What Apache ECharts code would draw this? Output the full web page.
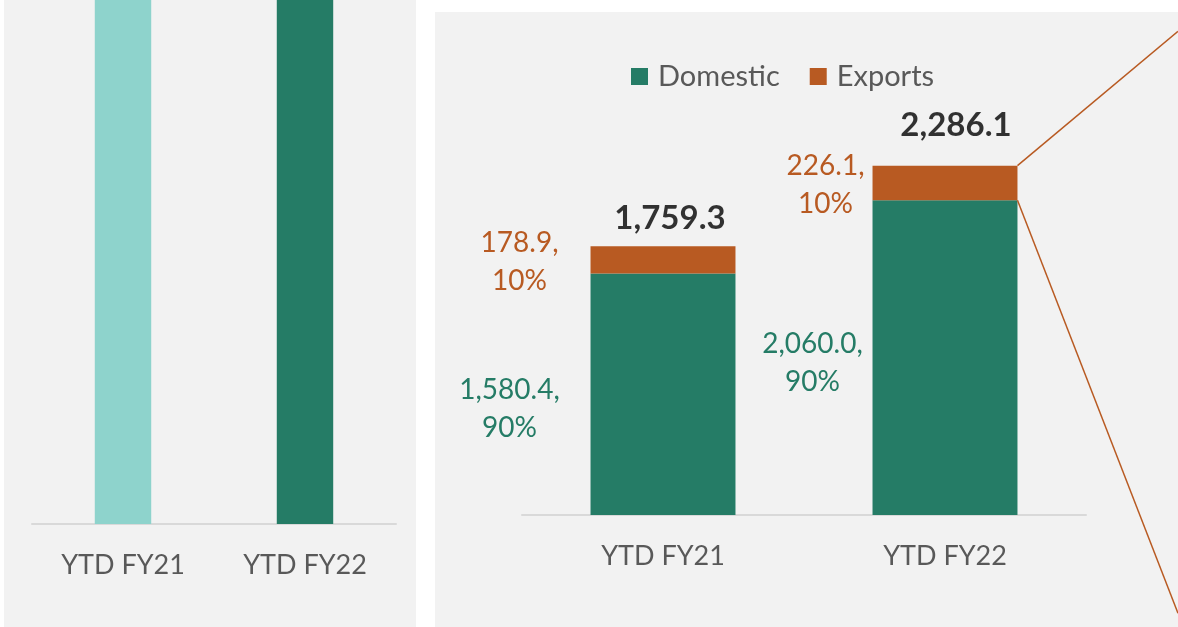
<!DOCTYPE html>
<html>
<head>
<meta charset="utf-8">
<script src="https://cdn.jsdelivr.net/npm/echarts@6/dist/echarts.min.js"></script>
<style>
html,body{margin:0;padding:0;background:#ffffff;}
#main{width:1178px;height:627px;}
</style>
</head>
<body>
<div id="main"></div>
<script>
// ---- data ----
const categories = ['YTD FY21', 'YTD FY22'];
const domesticValues = [1580.4, 2060.0];
const exportValues = [178.9, 226.1];
const totalValues = [1759.3, 2286.1];
// left (cropped) panel: bars run beyond the visible top of the panel
const leftValues = [1759.3, 2286.1];
const leftAxisMax = 1000;
const rightAxisMax = 2500;

// ---- style ----
const FONT = 'Lato, "Open Sans", sans-serif';
const GREEN = '#257c66';
const ORANGE = '#b85a22';
const TEAL = '#8ed3cc';
const GREY_TXT = '#595959';
const PANEL = '#f2f2f2';
const RIGHT_BAR_RATIO = 0.514;

const fmt = v => v.toLocaleString('en-US', {minimumFractionDigits: 1, maximumFractionDigits: 1});
const pct = (v, t) => Math.round(v / t * 100) + '%';

// per-item label placement (Excel-style manual positions)
const domLabelCfg = [{distance: 81, offset: [0, 15]}, {distance: 60, offset: [0, 5]}];
const expLabelCfg = [{distance: 71, offset: [0, 2]}, {distance: 47, offset: [0, 2]}];
const totLabelCfg = [{offset: [7, 0]}, {offset: [11, -13]}];

const chart = echarts.init(document.getElementById('main'), null, {renderer: 'canvas'});

const option = {
  backgroundColor: '#ffffff',
  animation: false,
  textStyle: {fontFamily: FONT},
  graphic: [
    {type: 'rect', z: -10, silent: true, shape: {x: 4, y: 0, width: 412, height: 627}, style: {fill: PANEL}},
    {type: 'rect', z: -10, silent: true, shape: {x: 435, y: 12, width: 743, height: 615}, style: {fill: PANEL}}
  ],
  legend: {
    data: ['Domestic', 'Exports'],
    left: 626,
    top: 57,
    icon: 'rect',
    itemWidth: 17,
    itemHeight: 17,
    itemGap: 30,
    textStyle: {color: GREY_TXT, fontSize: 29, fontFamily: FONT, padding: [0, 0, 0, 5]}
  },
  grid: [
    {left: 32, right: 1178 - 396, top: 0, bottom: 627 - 524, containLabel: false},
    {left: 522, right: 1178 - 1086, top: 133, bottom: 627 - 515, containLabel: false}
  ],
  xAxis: [
    {
      type: 'category', gridIndex: 0, data: categories,
      axisLine: {lineStyle: {color: '#d9d9d9', width: 2}},
      axisTick: {show: false},
      axisLabel: {color: GREY_TXT, fontSize: 27, fontFamily: FONT, margin: 28}
    },
    {
      type: 'category', gridIndex: 1, data: categories,
      axisLine: {lineStyle: {color: '#d9d9d9', width: 2}},
      axisTick: {show: false},
      axisLabel: {color: GREY_TXT, fontSize: 27, fontFamily: FONT, margin: 28}
    }
  ],
  yAxis: [
    {type: 'value', gridIndex: 0, min: 0, max: leftAxisMax, show: false, splitLine: {show: false}},
    {type: 'value', gridIndex: 1, min: 0, max: rightAxisMax, show: false, splitLine: {show: false}}
  ],
  series: [
    {
      name: 'Left', type: 'bar', xAxisIndex: 0, yAxisIndex: 0, clip: true,
      barWidth: '31%',
      data: leftValues.map((v, i) => ({value: v, itemStyle: {color: i === 0 ? TEAL : GREEN}}))
    },
    {
      name: 'Domestic', type: 'bar', xAxisIndex: 1, yAxisIndex: 1, stack: 'total',
      barWidth: (RIGHT_BAR_RATIO * 100) + '%',
      itemStyle: {color: GREEN},
      data: domesticValues.map((v, i) => ({
        value: v,
        label: {
          show: true, position: 'left', align: 'center', verticalAlign: 'middle',
          distance: domLabelCfg[i].distance, offset: domLabelCfg[i].offset,
          color: GREEN, fontSize: 28, fontFamily: FONT, lineHeight: 38,
          formatter: () => fmt(v) + ',\n' + pct(v, totalValues[i])
        }
      }))
    },
    {
      name: 'Exports', type: 'bar', xAxisIndex: 1, yAxisIndex: 1, stack: 'total',
      barWidth: (RIGHT_BAR_RATIO * 100) + '%',
      itemStyle: {color: ORANGE},
      data: exportValues.map((v, i) => ({
        value: v,
        label: {
          show: true, position: 'left', align: 'center', verticalAlign: 'middle',
          distance: expLabelCfg[i].distance, offset: expLabelCfg[i].offset,
          color: ORANGE, fontSize: 28, fontFamily: FONT, lineHeight: 38,
          formatter: () => fmt(v) + ',\n' + pct(v, totalValues[i])
        }
      }))
    },
    {
      name: 'Total', type: 'scatter', xAxisIndex: 1, yAxisIndex: 1,
      symbolSize: 0, silent: true,
      data: totalValues.map((v, i) => ({
        value: [i, v],
        label: {
          show: true, position: 'top', distance: 11, offset: totLabelCfg[i].offset,
          color: '#000000', fontSize: 33, fontWeight: 'bold', fontFamily: FONT,
          formatter: () => fmt(v)
        }
      }))
    },
    {
      name: 'Connector', type: 'custom', xAxisIndex: 1, yAxisIndex: 1, silent: true, clip: false, z: 5,
      data: [[1, totalValues[1], domesticValues[1]]],
      renderItem: function (params, api) {
        const top = api.coord([api.value(0), api.value(1)]);
        const mid = api.coord([api.value(0), api.value(2)]);
        const bw = api.size([1, 0])[0] * RIGHT_BAR_RATIO;
        const x = top[0] + bw / 2;
        const W = api.getWidth();
        const H = api.getHeight();
        const style = {stroke: ORANGE, lineWidth: 1.5, fill: null};
        return {
          type: 'group',
          children: [
            {type: 'line', shape: {x1: x, y1: top[1], x2: W, y2: 0.05 * H}, style: style},
            {type: 'line', shape: {x1: x, y1: mid[1], x2: W, y2: 0.978 * H}, style: style}
          ]
        };
      }
    }
  ]
};
chart.setOption(option);
</script>
</body>
</html>
